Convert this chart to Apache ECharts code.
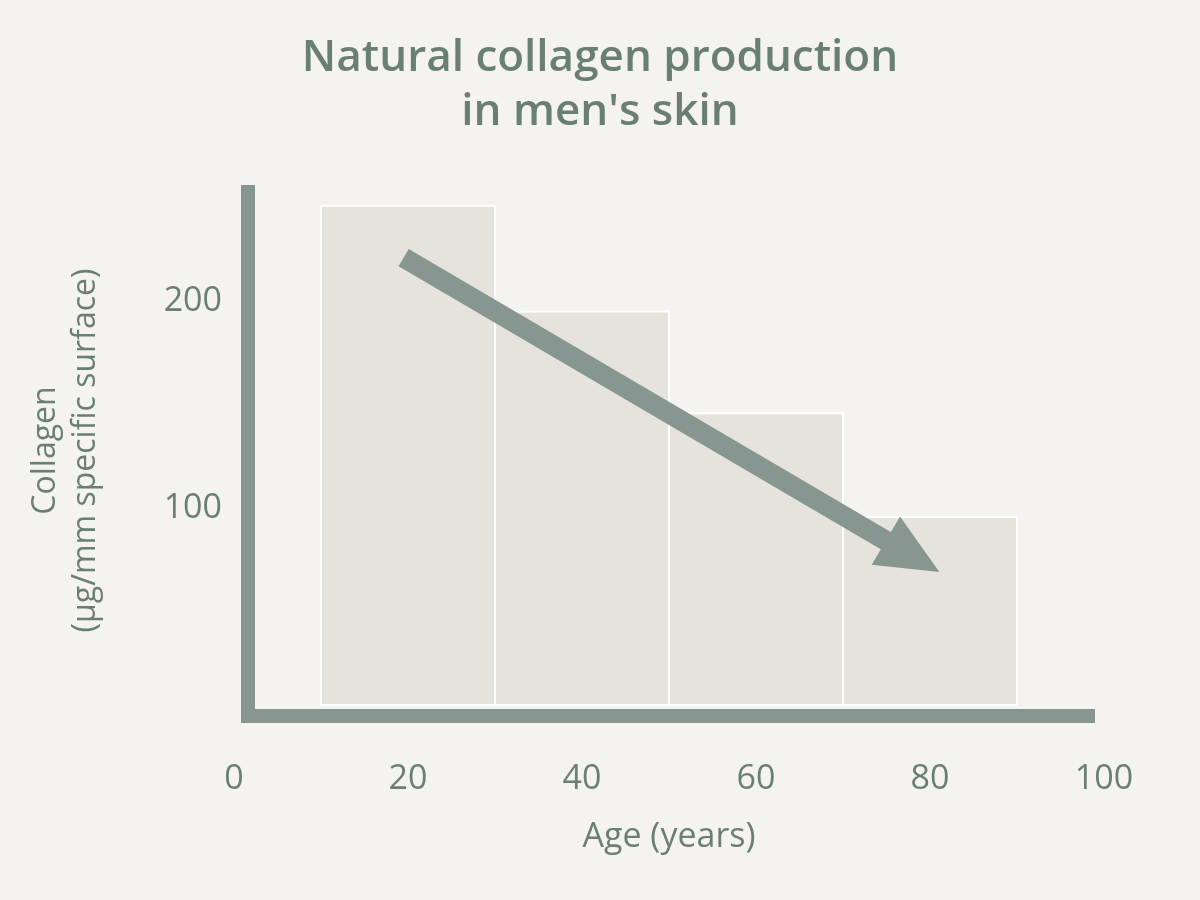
<!DOCTYPE html>
<html><head><meta charset="utf-8">
<script src="https://cdn.jsdelivr.net/npm/echarts@6/dist/echarts.min.js"></script>
<style>html,body{margin:0;padding:0;background:#f5f3ef}#c{width:1200px;height:900px}</style>
</head><body><div id="c"></div>
<script>
const binStarts=[10,30,50,70];
const binEnds=[30,50,70,90];
const collagen=[246,195,146,96];
const xTicks=[0,20,40,60,80,100];
const yTicks=[100,200];
const arrowFrom=[19.5,221];
const arrowTo=[78,77];
const txt='#6a7f74', axisC='#879690', ff='Open Sans';
const chart=echarts.init(document.getElementById('c'));
chart.setOption({
  backgroundColor:'#f5f3ef',
  title:{text:'Natural collagen production\nin men\'s skin',left:'center',top:26,
    textStyle:{color:txt,fontFamily:ff,fontWeight:600,fontSize:44,lineHeight:54}},
  grid:{left:234,right:96,top:185,bottom:184},
  xAxis:{type:'value',min:0,max:100,interval:20,
    name:'Age (years)',nameLocation:'middle',nameGap:104,
    nameTextStyle:{color:txt,fontSize:34,fontFamily:ff},
    axisLine:{show:false},axisTick:{show:false},splitLine:{show:false},
    axisLabel:{color:txt,fontSize:34,fontFamily:ff,margin:46,
      formatter:v=>xTicks.includes(v)?String(v):''}},
  yAxis:{type:'value',min:0,max:256,interval:100,
    name:'Collagen\n(µg/mm specific surface)',nameLocation:'middle',nameGap:128,
    nameTextStyle:{color:txt,fontSize:32,fontFamily:ff,lineHeight:40},
    axisLine:{show:false},axisTick:{show:false},splitLine:{show:false},
    axisLabel:{color:txt,fontSize:34,fontFamily:ff,margin:12,
      formatter:v=>yTicks.includes(v)?String(v):''}},
  graphic:[
    {type:'rect',shape:{x:241,y:185,width:14,height:538},style:{fill:axisC},z:10},
    {type:'rect',shape:{x:241,y:709,width:854,height:14},style:{fill:axisC},z:10}
  ],
  series:[{
    type:'custom',
    data:binStarts.map((s,i)=>[s,binEnds[i],collagen[i]]),
    renderItem:(p,api)=>{
      const a=api.coord([api.value(0),api.value(2)]);
      const b=api.coord([api.value(1),0]);
      return {type:'rect',shape:{x:a[0],y:a[1],width:b[0]-a[0],height:b[1]-a[1]-11},
        style:{fill:'#e6e3dc',stroke:'#ffffff',lineWidth:2}};
    },
    markLine:{silent:true,symbol:['none','triangle'],symbolSize:[56,62],
      label:{show:false},
      lineStyle:{color:axisC,width:20,type:'solid'},
      data:[[{coord:arrowFrom},{coord:arrowTo}]]}
  }]
});
</script></body></html>
